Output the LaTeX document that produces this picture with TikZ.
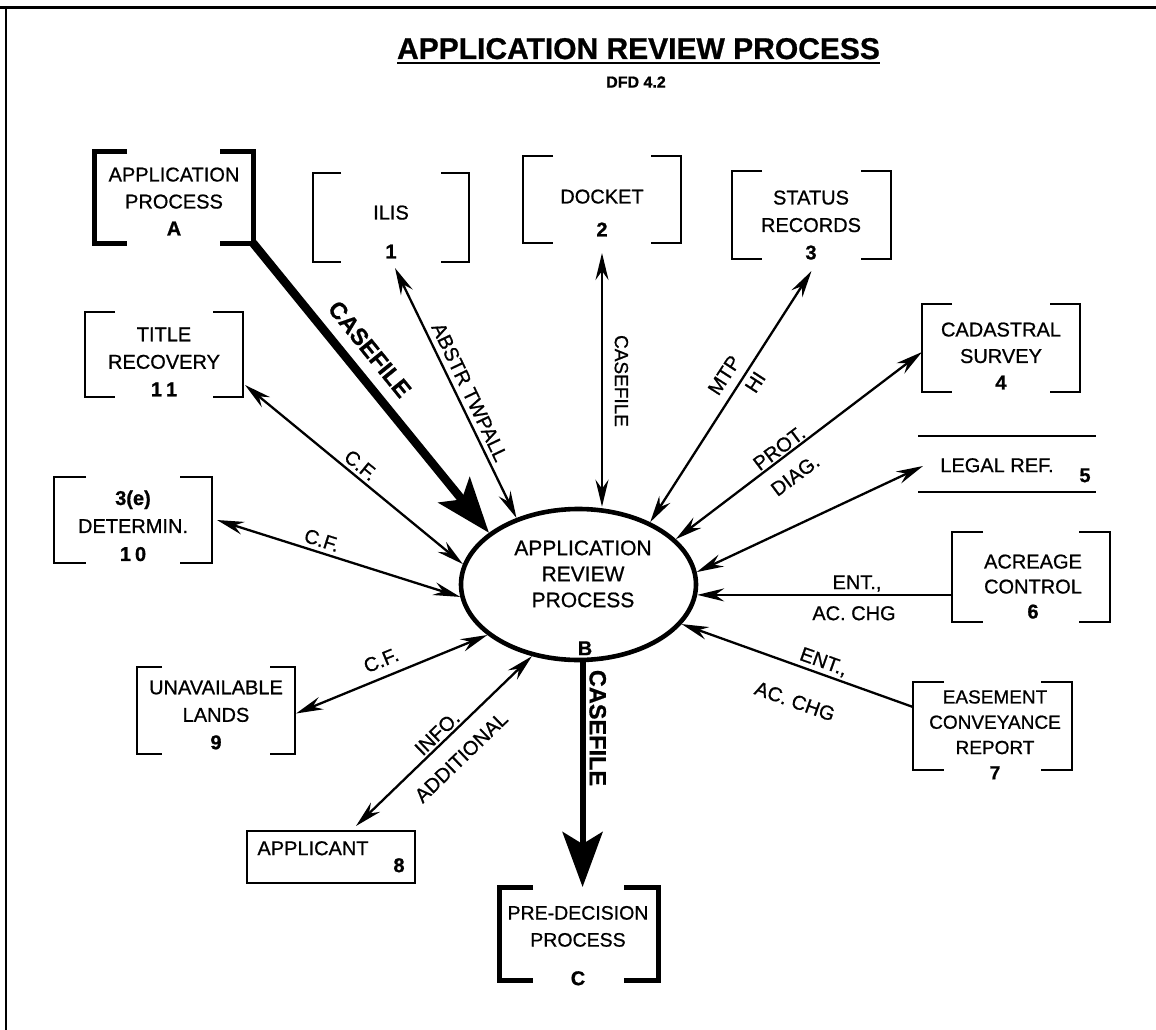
\documentclass[tikz,border=0pt]{standalone}
\usepackage{fontspec}
\setmainfont{Liberation Sans}[FakeBold=0.8]
\usetikzlibrary{arrows.meta,calc,shapes.geometric}

% brackets of a data store: #1 node, #2 serif length, #3 line width
\newcommand\storebrackets[3]{%
  \draw[line width=#3, line join=miter]
    ($(#1.north west)+(#2,0)$) -- (#1.north west) -- (#1.south west) -- ($(#1.south west)+(#2,0)$);
  \draw[line width=#3, line join=miter]
    ($(#1.north east)+(-#2,0)$) -- (#1.north east) -- (#1.south east) -- ($(#1.south east)+(-#2,0)$);}

\tikzset{
  flowtip/.tip={Stealth[length=27pt,width=13pt,inset=9pt]},
  casetip/.tip={Stealth[length=55pt,width=40pt,inset=12pt]},
  store/.style={rectangle, minimum width=158pt, minimum height=88pt},
  boxtext/.style={anchor=north, align=center, font=\fontsize{20}{#1}\selectfont},
  flabel/.style={font=\fontsize{20}{24}\selectfont, text height=14.3pt, text depth=0pt},
  caselabel/.style={font=\bfseries\fontsize{23.5}{28}\selectfont, text height=16.8pt, text depth=0pt},
  numlabel/.style={font=\bfseries\fontsize{20}{24}\selectfont, text height=14.3pt, text depth=0pt},
  oneflow/.style={line width=2.3pt, -flowtip},
  twoflow/.style={line width=2.3pt, flowtip-flowtip},
  heavyflow/.style={line width=#1, -casetip},
}

\begin{document}
\begin{tikzpicture}[x=1pt,y=-1pt, every node/.style={inner sep=0pt, outer sep=0pt}]
\useasboundingbox (0,0) rectangle (1156,1030);

% sheet frame
\coordinate (frameTL) at (6,8);
\coordinate (frameTR) at (1156,8);
\coordinate (frameBL) at (6,1030);
\draw[line width=3pt] (0,8) -- (frameTR);
\draw[line width=2.5pt] (frameTL) -- (frameBL);

% heading
\node[font=\bfseries\fontsize{30}{34}\selectfont, anchor=base] (title) at (638.5,59) {APPLICATION REVIEW PROCESS};
\draw[line width=2.5pt] ([yshift=-4pt]title.base west) -- ([yshift=-4pt]title.base east);
\node[font=\bfseries\fontsize{16}{18}\selectfont] (dfd) at (636,82) {DFD 4.2};

% central process
\node[ellipse, draw, line width=4.6pt, minimum width=235pt, minimum height=151pt, outer sep=2.3pt] (arp) at (578.5,584.5) {};
\node[boxtext=26, font=\fontsize{21}{26}\selectfont] (arp-t) at (583,540.5) {APPLICATION\\REVIEW\\PROCESS};
\node[numlabel] (arp-id) at (585,648) {B};

% external processes (heavy brackets)
\node[store, minimum width=159pt, minimum height=92pt] (appA) at (173.5,197) {};
\storebrackets{appA}{33}{5pt}
\node[boxtext=27] (appA-t) at (174,167.5) {APPLICATION\\PROCESS\\\textbf{A}};

\node[store, minimum width=159pt, minimum height=93pt] (predec) at (578.5,933.5) {};
\storebrackets{predec}{34}{5pt}
\node[boxtext=27, font=\fontsize{19.5}{27}\selectfont] (predec-t) at (578,906) {PRE-DECISION\\PROCESS};
\node[numlabel] (predec-id) at (578,978) {C};

% data stores
\node[store, minimum width=156pt, minimum height=89pt] (ilis) at (391,217.5) {};
\storebrackets{ilis}{28}{2.3pt}
\node[boxtext=39] (ilis-t) at (391,205.5) {ILIS\\\textbf{1}};

\node[store, minimum height=87pt] (docket) at (602,199.5) {};
\storebrackets{docket}{30}{2.3pt}
\node[boxtext=33] (docket-t) at (602,189.5) {DOCKET\\\textbf{2}};

\node[store, minimum width=159pt] (status) at (811.5,215) {};
\storebrackets{status}{30}{2.3pt}
\node[boxtext=27.5] (status-t) at (811,190.5) {STATUS\\RECORDS\\\textbf{3}};

\node[store] (cadastral) at (1001,348) {};
\storebrackets{cadastral}{30}{2.3pt}
\node[boxtext=26.5] (cadastral-t) at (1001,322.5) {CADASTRAL\\SURVEY\\\textbf{4}};

\node[rectangle, minimum width=178pt, minimum height=56pt] (legal) at (1007,464) {};
\draw[line width=2.3pt] (legal.north west) -- (legal.north east);
\draw[line width=2.3pt] (legal.south west) -- (legal.south east);
\node[flabel] (legal-t) at (997,465) {LEGAL REF.};
\node[numlabel] (legal-id) at (1085,475) {5};

\node[store, minimum height=90pt] (acreage) at (1031,577) {};
\storebrackets{acreage}{31}{2.3pt}
\node[boxtext=25] (acreage-t) at (1033,554.5) {ACREAGE\\CONTROL\\\textbf{6}};

\node[store, minimum width=159pt] (easement) at (992.5,726) {};
\storebrackets{easement}{31}{2.3pt}
\node[boxtext=25.3, font=\fontsize{19}{25.3}\selectfont] (easement-t) at (995,690.2) {EASEMENT\\CONVEYANCE\\REPORT\\\textbf{7}};

\node[rectangle, draw, line width=2.3pt, minimum width=168pt, minimum height=52pt] (applicant) at (331,857) {};
\node[flabel] (applicant-t) at (313,848) {APPLICANT};
\node[numlabel] (applicant-id) at (399,865) {8};

\node[store, minimum height=87pt] (unavail) at (216,710.5) {};
\storebrackets{unavail}{25}{2.3pt}
\node[boxtext=27.5] (unavail-t) at (216,680.5) {UNAVAILABLE\\LANDS\\\textbf{9}};

\node[store, minimum height=86pt] (determ) at (133,520) {};
\storebrackets{determ}{32}{2.3pt}
\node[boxtext=28] (determ-t) at (133,490.5) {\textbf{3(e)}\\DETERMIN.\\\textbf{1\kern4pt0}};

\node[store, minimum height=85pt] (title11) at (164,354.5) {};
\storebrackets{title11}{30}{2.3pt}
\node[boxtext=27.5] (title11-t) at (164,327.5) {TITLE\\RECOVERY\\\textbf{1\kern4pt1}};

% data flows
\draw[heavyflow=8.5pt] (appA.south east) -- (arp.150.2);
\draw[twoflow] ($(ilis.south)+(4,6)$) -- (arp.133.7);
\draw[twoflow] ($(docket.south)+(0,10)$) -- (docket.south |- arp.north);
\draw[twoflow] ($(status.south)+(0,12)$) -- (arp.41.6);
\draw[twoflow] ($(cadastral.west)+(0,4)$) -- (arp.25.7);
\draw[twoflow] ($(legal.west)+(5,2)$) -- (arp.6.9);
\draw[oneflow] (acreage.west |- arp.-5) -- (arp.-5);
\draw[oneflow] ($(easement.west)+(0,-19)$) -- (arp.-21.3);
\draw[twoflow] ($(title11.south east)+(2,-12)$) -- (arp.170.5);
\draw[twoflow] ($(determ.east)+(5,0)$) -- (arp.186.5);
\draw[twoflow] ($(unavail.east)+(1,3)$) -- (arp.209);
\draw[twoflow] ($(applicant.north)+(25,-5)$) -- (arp.237.5);
\draw[heavyflow=6pt] (arp.-87) -- (arp.-87 |- predec.north);

% flow labels
\node[caselabel, rotate=-51] (l-case-a) at (370,349) {CASEFILE};
\node[flabel, rotate=-64.5] (l-abstr) at (470,392) {ABSTR TWPALL};
\node[flabel, font=\fontsize{19}{24}\selectfont, rotate=-90] (l-case-docket) at (622,381) {CASEFILE};
\node[flabel, rotate=57] (l-mtp) at (724,375) {MTP};
\node[flabel, rotate=57] (l-hi) at (755,382) {HI};
\node[flabel, rotate=37] (l-prot) at (779,448) {PROT.};
\node[flabel, rotate=37] (l-diag) at (795,475) {DIAG.};
\node[flabel] (l-ent6) at (857,582) {ENT.,};
\node[flabel] (l-ac6) at (854,613) {AC. CHG};
\node[flabel, rotate=-19.5] (l-ent7) at (824,661) {ENT.,};
\node[flabel, rotate=-19.5] (l-ac7) at (795,701) {AC. CHG};
\node[flabel, rotate=-39.5] (l-cf11) at (361,465) {C.F.};
\node[flabel, rotate=-17.8] (l-cf10) at (322,540) {C.F.};
\node[flabel, rotate=22.2] (l-cf9) at (381,660) {C.F.};
\node[flabel, rotate=44] (l-info) at (437,733) {INFO.};
\node[flabel, rotate=44] (l-add) at (461,757) {ADDITIONAL};
\node[caselabel, rotate=-90] (l-case-c) at (598,728) {CASEFILE};
\end{tikzpicture}
\end{document}
